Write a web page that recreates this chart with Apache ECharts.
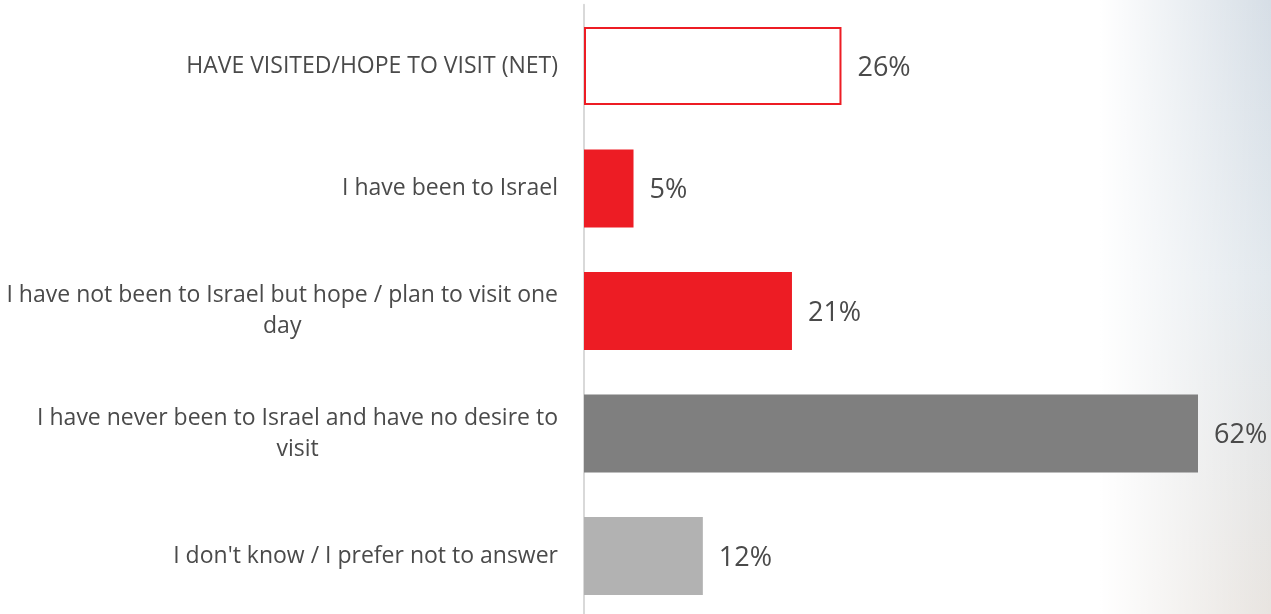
<!DOCTYPE html>
<html>
<head>
<meta charset="utf-8">
<script src="https://cdn.jsdelivr.net/npm/echarts@6/dist/echarts.min.js"></script>
<style>
  html, body { margin: 0; padding: 0; }
  body {
    width: 1271px; height: 614px; overflow: hidden;
    background:
      linear-gradient(to right, rgba(255,255,255,1) 0px, rgba(255,255,255,1) 1100px, rgba(255,255,255,0) 1271px),
      linear-gradient(to bottom, #d6dee6 0%, #e2e8ed 45%, #e8e4e0 100%);
  }
  #chart { width: 1271px; height: 614px; }
</style>
</head>
<body>
<div id="chart"></div>
<script>
// Survey answers, top to bottom
const categories = [
  'HAVE VISITED/HOPE TO VISIT (NET)',
  'I have been to Israel',
  'I have not been to Israel but hope / plan to visit one\nday',
  'I have never been to Israel and have no desire to\nvisit',
  "I don't know / I prefer not to answer"
];
// Share of respondents, percent
const values = [26, 5, 21, 62, 12];

const RED = '#ED1C24';
const fills = ['#FFFFFF', RED, RED, '#7F7F7F', '#B2B2B2'];
const borders = [RED, null, null, null, null];

const labelFont = '"Open Sans", "Segoe UI", sans-serif';
const textColor = '#4a4a4a';

const chart = echarts.init(document.getElementById('chart'), null, { renderer: 'canvas' });

chart.setOption({
  backgroundColor: 'transparent',
  animation: false,
  grid: {
    left: 584, width: 614, top: 4.75, height: 612.5,
    containLabel: false, outerBoundsMode: 'none'
  },
  xAxis: {
    type: 'value', min: 0, max: 62,
    show: false
  },
  yAxis: {
    type: 'category',
    data: categories,
    inverse: true,
    axisTick: { show: false },
    axisLine: { show: true, lineStyle: { color: '#d9d9d9', width: 2 } },
    splitLine: { show: false },
    axisLabel: {
      margin: 26,
      align: 'right',
      formatter: function (v) {
        return v.split('\n').map(function (l) { return '{c|' + l + '}'; }).join('\n');
      },
      rich: {
        c: {
          align: 'center',
          fontFamily: labelFont,
          fontSize: 23,
          lineHeight: 31,
          color: textColor
        }
      }
    }
  },
  series: [{
    type: 'bar',
    barWidth: 78,
    data: values.map(function (v, i) {
      return {
        value: v,
        itemStyle: {
          color: fills[i],
          borderColor: borders[i] || fills[i],
          borderWidth: borders[i] ? 2 : 0
        }
      };
    }),
    label: {
      show: true,
      position: 'right',
      distance: 16,
      offset: [0, 2],
      formatter: '{c}%',
      fontFamily: labelFont,
      fontSize: 27,
      color: textColor
    }
  }]
});
</script>
</body>
</html>
